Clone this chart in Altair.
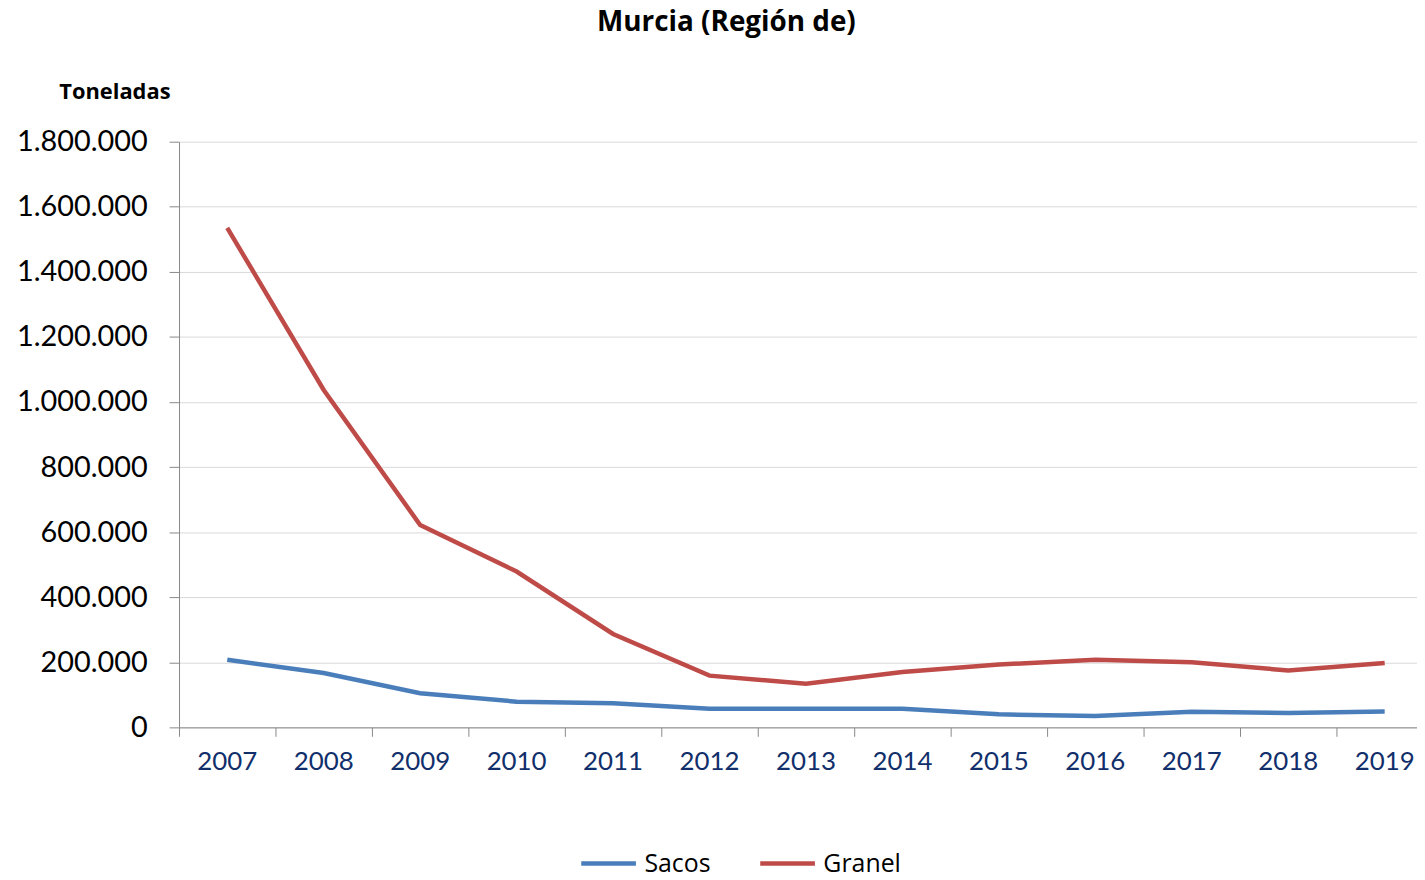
import altair as alt
import pandas as pd

years = [str(y) for y in range(2007, 2020)]
sacos = [208000, 167000, 105000, 79000, 74000, 57000, 57000, 57000, 40000, 35000, 48000, 44000, 49000]
granel = [1535000, 1037000, 622000, 479000, 287000, 159000, 134000, 170000, 193000, 208000, 200000, 175000, 198000]
series = ["Sacos", "Granel"]
colors = ["#4A7EBB", "#BE4B48"]

rows = []
for y, s, g in zip(years, sacos, granel):
    rows.append({"year": y, "serie": "Sacos", "value": s})
    rows.append({"year": y, "serie": "Granel", "value": g})
df = pd.DataFrame(rows)

FONT = "Lato"
TFONT = "Open Sans"

chart = alt.Chart(df).mark_line(strokeWidth=4.5).encode(
    x=alt.X("year:N", bandPosition=0.5,
            scale=alt.Scale(type="band", paddingInner=0, paddingOuter=0, range=[0, 1261]),
            axis=alt.Axis(title=None, labelAngle=0, bandPosition=0,
                          labelFontSize=26, labelColor="#112F6B", labelFont=FONT,
                          tickSize=9, tickColor="#888888", domainColor="#888888",
                          labelPadding=12, grid=False)),
    y=alt.Y("value:Q", scale=alt.Scale(domain=[0, 1800000], nice=False),
            axis=alt.Axis(values=list(range(0, 1800001, 200000)), format=",d",
                          title="Toneladas", titleAngle=0, titleX=-65, titleY=-50,
                          titleAlign="center", titleBaseline="middle",
                          titleFont=TFONT, titleFontSize=22, titleFontWeight="bold",
                          titleColor="#000000",
                          labelFontSize=29, labelColor="#000000", labelFont=FONT,
                          labelPadding=22, tickSize=10, tickColor="#888888",
                          domainColor="#888888", gridColor="#D9D9D9")),
    color=alt.Color("serie:N", sort=series,
                    scale=alt.Scale(domain=series, range=colors),
                    legend=alt.Legend(title=None, orient="none", direction="horizontal",
                                      legendX=402, legendY=696,
                                      symbolType="stroke", symbolSize=3025,
                                      symbolStrokeWidth=4.5, labelFontSize=25,
                                      labelFont=TFONT, labelColor="#000000",
                                      labelOffset=6, columnPadding=40)),
).properties(
    width=1245, height=589,
    padding={"left": 172, "top": 132, "right": 0, "bottom": 143},
    autosize=alt.AutoSizeParams(type="none"),
    title=alt.TitleParams("Murcia (Región de)", font=TFONT, fontSize=28, fontWeight="bold",
                          color="#000000", anchor="middle", frame="group", dx=-72, offset=44),
).configure(
    locale={"number": {"decimal": ",", "thousands": ".", "grouping": [3], "currency": ["", " €"]}}
).configure_view(stroke=None)

chart.save("out.html", embed_options={"renderer": "svg", "actions": False})
